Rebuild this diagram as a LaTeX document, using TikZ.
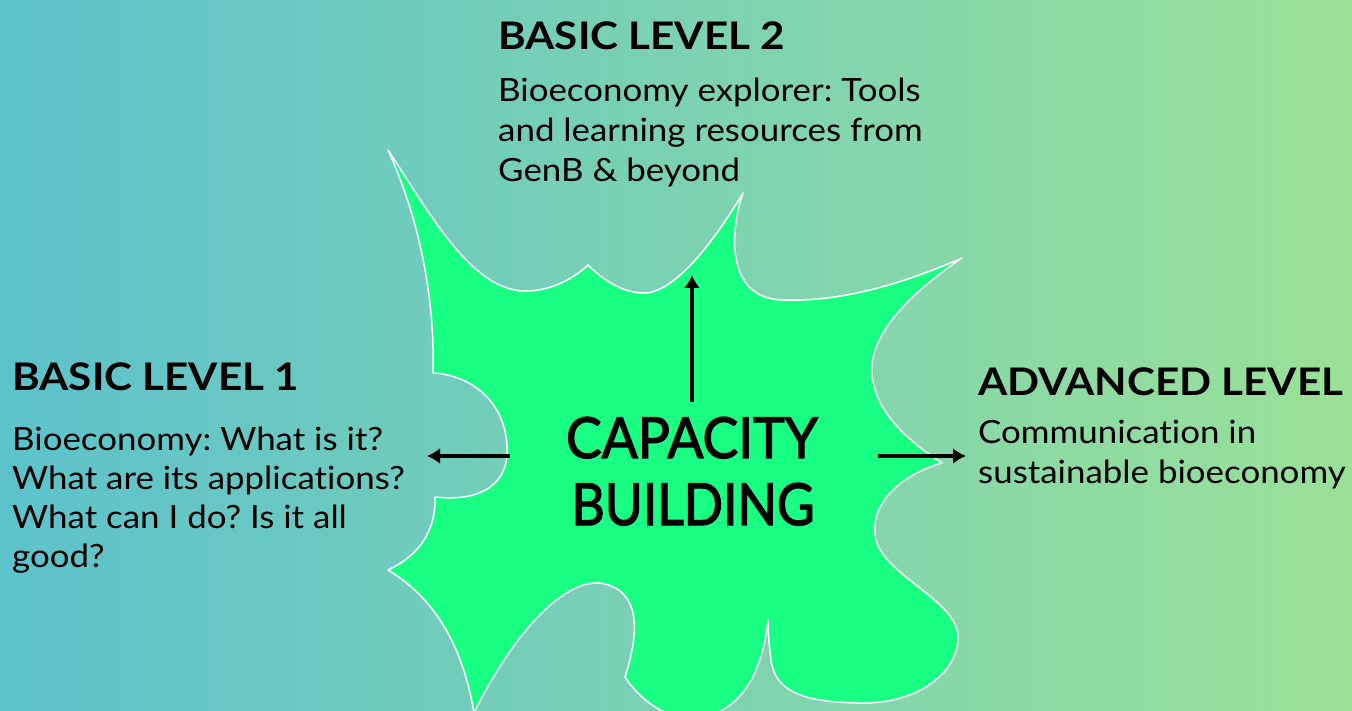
\documentclass[tikz,border=0pt]{standalone}
\usepackage{fontspec}
\setmainfont{Lato}
\newfontfamily\bodyfont[FakeStretch=1.09,Ligatures=NoCommon]{Lato}
\newfontfamily\headfont[FakeStretch=1.11,Ligatures=NoCommon]{Lato}
\newfontfamily\capfont[FakeBold=2.2]{Lato}
\usepackage{graphicx}
\usetikzlibrary{arrows.meta}
\definecolor{bgleft}{RGB}{92,194,204}
\definecolor{bgright}{RGB}{154,225,152}
\definecolor{blobgreen}{RGB}{25,255,132}
\frenchspacing
\begin{document}
\begin{tikzpicture}[x=1pt,y=-1pt,
  conn/.style={line width=4pt,-{Latex[length=13pt,width=16pt]}},
  head/.style={anchor=base west,inner sep=0pt,font=\headfont\fontsize{38}{40}\selectfont\bfseries},
  body/.style={anchor=base west,inner sep=0pt,font=\bodyfont\fontsize{32}{40}\selectfont},
  centre/.style={anchor=base,inner sep=0pt,font=\capfont},
  blob/.style={fill=blobgreen,draw=white,line width=1.5pt,line join=round}]
\useasboundingbox (0,0) rectangle (1352,711);
\shade[left color=bgleft,right color=bgright] (0,0) rectangle (1352,711);
\begin{scope}
\clip (0,0) rectangle (1352,711);
\path[blob] (388,150) .. controls (425,205) and (470,291) .. (525,291)
  .. controls (550,291) and (572,280) .. (588,265)
  .. controls (605,282) and (625,293) .. (644,293)
  .. controls (675,293) and (715,240) .. (743,193)
  .. controls (730,230) and (725,298) .. (782,300)
  .. controls (840,302) and (900,285) .. (962,258)
  .. controls (900,300) and (862,345) .. (874,385)
  .. controls (882,420) and (915,445) .. (942,463)
  .. controls (900,475) and (868,505) .. (876,540)
  .. controls (885,575) and (955,600) .. (958,635)
  .. controls (960,670) and (920,705) .. (858,703)
  .. controls (800,702) and (775,690) .. (771,660)
  .. controls (769,645) and (768,630) .. (768,620)
  .. controls (762,680) and (735,718) .. (690,718)
  .. controls (665,718) and (640,700) .. (625,677)
  .. controls (637,640) and (645,590) .. (600,583)
  .. controls (560,580) and (510,640) .. (474,713)
  .. controls (462,640) and (430,595) .. (388,570)
  .. controls (420,555) and (436,530) .. (435,497)
  .. controls (480,502) and (510,485) .. (507,445)
  .. controls (504,400) and (470,375) .. (433,373)
  .. controls (435,300) and (420,220) .. (388,150) -- cycle;
\end{scope}
% centre text
\node[centre] (cap) at (692,458) {\resizebox{252pt}{41pt}{CAPACITY}};
\node[centre] (bld) at (693,525) {\resizebox{243pt}{42pt}{BUILDING}};
% level 1
\node[head] (h1) at (12,390) {BASIC LEVEL 1};
\node[body] (b1) at (12,450) {\vtop{\baselineskip=39pt\hbox{Bioeconomy: What is it?}\hbox{What are its applications?}\hbox{What can I do? Is it all}\hbox{good?}}};
% level 2
\node[head] (h2) at (498,50) {BASIC LEVEL 2};
\node[body] (b2) at (498,102) {\vtop{\baselineskip=40pt\hbox{Bioeconomy explorer: Tools}\hbox{and learning resources from}\hbox{GenB \& beyond}}};
% advanced
\node[head] (h3) at (978,395) {ADVANCED LEVEL};
\node[body] (b3) at (978,443) {\vtop{\baselineskip=40pt\hbox{Communication in}\hbox{sustainable bioeconomy}}};
% connectors
\coordinate (upS) at (692,402);
\coordinate (upE) at (692,275);
\coordinate (lS) at (510,456);
\coordinate (lE) at (427,456);
\coordinate (rS) at (878,456);
\coordinate (rE) at (966,456);
\draw[conn] (upS) -- (upE);
\draw[conn] (lS) -- (lE);
\draw[conn] (rS) -- (rE);
\end{tikzpicture}
\end{document}
